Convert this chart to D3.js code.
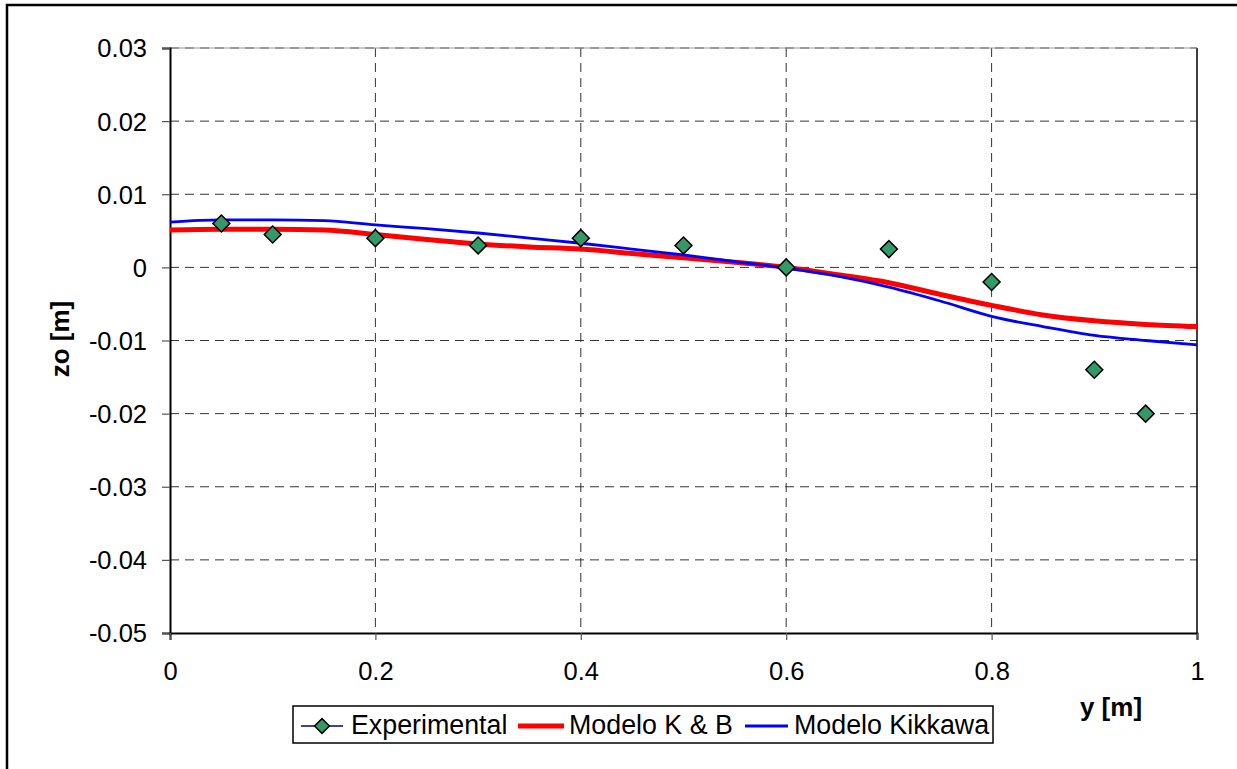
<!DOCTYPE html>
<html lang="en">
    <head>
        <meta charset="utf-8">
        <style>
            body { margin: 0; background: #fff; }
            text { font-family: Arial, "Liberation Sans", sans-serif; }
        </style>
    </head>
    <body>
        <svg id="mysvg" width="1237" height="769"></svg>

        <script src="https://cdn.jsdelivr.net/npm/d3@7"></script>
        <script>
            // data
            var expX = [0.05, 0.1, 0.2, 0.3, 0.4, 0.5, 0.6, 0.7, 0.8, 0.9, 0.95];
            var expZ = [0.006, 0.0045, 0.004, 0.003, 0.004, 0.003, 0.0, 0.0025, -0.002, -0.014, -0.02];

            var modelX = [0, 0.05, 0.1, 0.15, 0.2, 0.25, 0.3, 0.35, 0.4, 0.45, 0.5,
                          0.55, 0.6, 0.65, 0.7, 0.75, 0.8, 0.85, 0.9, 0.95, 1];
            var kbZ = [0.0051, 0.0052, 0.0052, 0.0051, 0.0045, 0.0038, 0.0032, 0.0028, 0.0025, 0.0019, 0.0013,
                       0.0007, 0.0, -0.0010, -0.0021, -0.0037, -0.0052, -0.0065, -0.0073, -0.0078, -0.0081];
            var kikZ = [0.0062, 0.0065, 0.0065, 0.0064, 0.0058, 0.0053, 0.0047, 0.0040, 0.0033, 0.0025, 0.0017,
                        0.0008, -0.0001, -0.0012, -0.0027, -0.0046, -0.0067, -0.0081, -0.0093, -0.0100, -0.0106];

            var xTicks = [0, 0.2, 0.4, 0.6, 0.8, 1];
            var yTicks = [0.03, 0.02, 0.01, 0, -0.01, -0.02, -0.03, -0.04, -0.05];
            var seriesNames = ["Experimental", "Modelo K & B", "Modelo Kikkawa"];

            var svg = d3.select("#mysvg");

            // outer chart border (cut at right / bottom like the source)
            svg.append("rect")
                .attr("x", 7).attr("y", 5)
                .attr("width", 1260).attr("height", 800)
                .attr("fill", "none").attr("stroke", "black").attr("stroke-width", 2.5);

            var pLeft = 170, pRight = 1197, pTop = 48, pBottom = 633;

            var x = d3.scaleLinear().domain([0, 1]).range([pLeft, pRight]);
            var y = d3.scaleLinear().domain([-0.05, 0.03]).range([pBottom, pTop]);

            // grid
            var grid = svg.append("g");
            grid.selectAll(".hg")
                .data(yTicks.filter(function(d){ return d > -0.05; }))
                .enter().append("line")
                .attr("x1", pLeft).attr("x2", pRight)
                .attr("y1", function(d){ return y(d); })
                .attr("y2", function(d){ return y(d); })
                .attr("stroke", "#333").attr("stroke-width", 1)
                .attr("stroke-dasharray", "9,6");
            grid.selectAll(".vg")
                .data(xTicks.filter(function(d){ return d > 0 && d < 1; }))
                .enter().append("line")
                .attr("y1", pTop).attr("y2", pBottom)
                .attr("x1", function(d){ return x(d); })
                .attr("x2", function(d){ return x(d); })
                .attr("stroke", "#333").attr("stroke-width", 1)
                .attr("stroke-dasharray", "9,6");

            // plot area right border
            svg.append("line")
                .attr("x1", pRight).attr("x2", pRight)
                .attr("y1", pTop).attr("y2", pBottom)
                .attr("stroke", "black").attr("stroke-width", 1.5);
            svg.append("line")
                .attr("x1", pLeft).attr("x2", pRight)
                .attr("y1", pTop).attr("y2", pTop)
                .attr("stroke", "#999").attr("stroke-width", 1);

            // axes
            var yAxis = d3.axisLeft(y).tickValues(yTicks)
                .tickFormat(function(d){ return d === 0 ? "0" : d3.format(".2f")(d).replace("−", "-"); })
                .tickSize(8).tickPadding(15);
            var gy = svg.append("g").attr("transform", "translate(" + pLeft + ",0)").call(yAxis);

            var xAxis = d3.axisBottom(x).tickValues(xTicks)
                .tickFormat(function(d){ return d === 0 ? "0" : d === 1 ? "1" : d3.format(".1f")(d); })
                .tickSize(7).tickPadding(22);
            var gx = svg.append("g").attr("transform", "translate(0," + pBottom + ")").call(xAxis);

            [gx, gy].forEach(function(g){
                g.select(".domain").attr("stroke", "black").attr("stroke-width", 2);
                g.selectAll(".tick line").attr("stroke", "#555").attr("stroke-width", 1.2);
                g.selectAll(".tick text")
                    .attr("fill", "black")
                    .style("font-size", "25.5px")
                    .style("font-family", "Arial, 'Liberation Sans', sans-serif");
            });
            gy.selectAll(".tick text").attr("dy", "0.35em");

            // axis titles
            svg.append("text")
                .attr("x", 1111).attr("y", 716)
                .attr("text-anchor", "middle")
                .style("font-size", "26px").style("font-weight", "bold")
                .text("y [m]");
            svg.append("text")
                .attr("transform", "translate(69,339) rotate(-90)")
                .attr("text-anchor", "middle")
                .style("font-size", "26px").style("font-weight", "bold")
                .text("zo [m]");

            var lineFunction = d3.line()
                .x(function(d){ return x(d[0]); })
                .y(function(d){ return y(d[1]); })
                .curve(d3.curveMonotoneX);

            var kb = modelX.map(function(v, i){ return [v, kbZ[i]]; });
            var kik = modelX.map(function(v, i){ return [v, kikZ[i]]; });

            svg.append("path")
                .attr("d", lineFunction(kb))
                .attr("fill", "none").attr("stroke", "#ff0000").attr("stroke-width", 5);
            svg.append("path")
                .attr("d", lineFunction(kik))
                .attr("fill", "none").attr("stroke", "#0000ff").attr("stroke-width", 2.8);

            var diamond = d3.symbol().type(d3.symbolSquare).size(144);

            svg.selectAll(".pt")
                .data(expX.map(function(v, i){ return [v, expZ[i]]; }))
                .enter().append("path")
                .attr("d", diamond)
                .attr("transform", function(d){
                    return "translate(" + x(d[0]) + "," + y(d[1]) + ") rotate(45)";
                })
                .attr("fill", "#339966").attr("stroke", "black").attr("stroke-width", 1.5);

            // legend
            var lg = svg.append("g");
            lg.append("rect")
                .attr("x", 293).attr("y", 706)
                .attr("width", 700).attr("height", 37)
                .attr("fill", "white").attr("stroke", "black").attr("stroke-width", 1.5);

            var items = [
                {x1: 301, x2: 343, tx: 351, color: "#000080", w: 1.5, marker: true},
                {x1: 518, x2: 564, tx: 569, color: "#ff0000", w: 5, marker: false},
                {x1: 745, x2: 788, tx: 794, color: "#0000ff", w: 2.8, marker: false}
            ];
            items.forEach(function(it, i){
                lg.append("line")
                    .attr("x1", it.x1).attr("x2", it.x2)
                    .attr("y1", 726).attr("y2", 726)
                    .attr("stroke", it.color).attr("stroke-width", it.w);
                if(it.marker){
                    lg.append("path")
                        .attr("d", d3.symbol().type(d3.symbolSquare).size(110))
                        .attr("transform", "translate(" + ((it.x1 + it.x2) / 2) + ",726) rotate(45)")
                        .attr("fill", "#339966").attr("stroke", "black").attr("stroke-width", 1.5);
                }
                lg.append("text")
                    .attr("x", it.tx).attr("y", 734)
                    .style("font-size", "26.8px")
                    .text(seriesNames[i]);
            });
        </script>
    </body>
</html>
